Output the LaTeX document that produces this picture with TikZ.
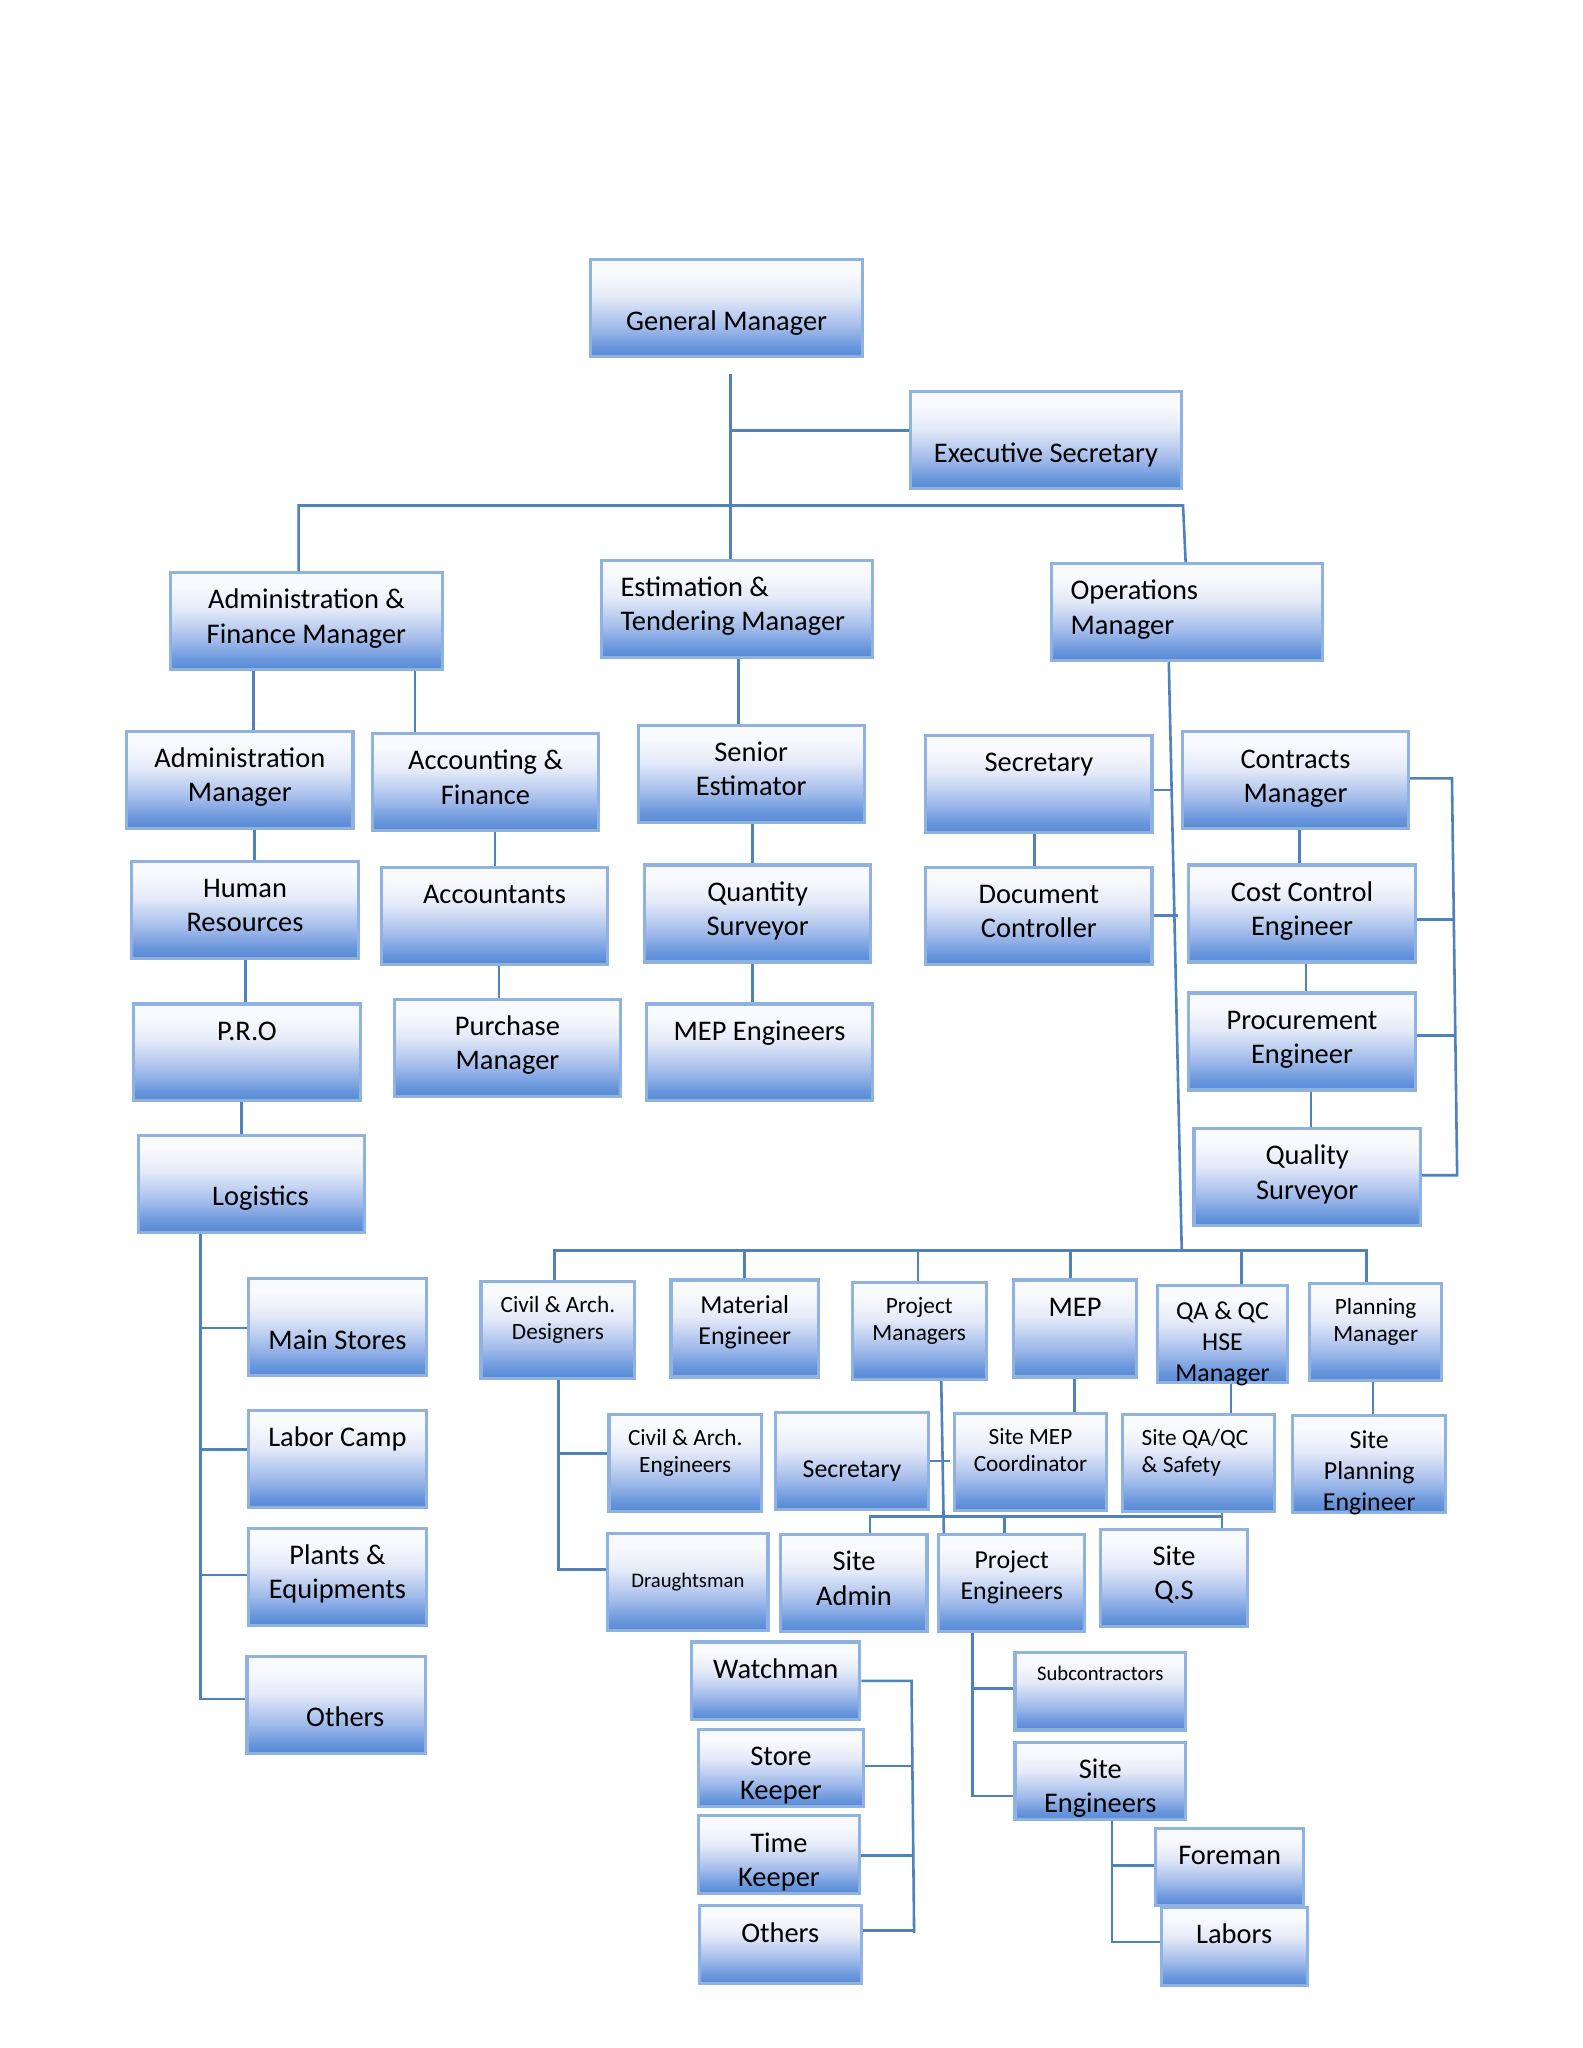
\documentclass[tikz,border=0pt]{standalone}
\usepackage{fontspec}
\setmainfont{Carlito}
\usepackage{tikz}
\usetikzlibrary{positioning}
\definecolor{linkblue}{RGB}{79,129,189}
\definecolor{edgeblue}{RGB}{143,178,224}
\definecolor{shadetop}{RGB}{249,250,254}
\definecolor{shadeup}{RGB}{228,234,248}
\definecolor{shademid}{RGB}{165,189,235}
\definecolor{shadelow}{RGB}{104,150,220}
\definecolor{shadebot}{RGB}{86,138,212}
\pgfdeclareverticalshading{jobshade}{100bp}{color(0bp)=(shadebot); color(25bp)=(shadebot); color(30bp)=(shadelow); color(41bp)=(shademid); color(56bp)=(shadeup); color(68bp)=(shadetop); color(100bp)=(shadetop)}
\newcommand{\orgrole}[2][c]{\begin{tabular}[t]{@{}#1@{}}#2\end{tabular}}
\tikzset{
jobbox/.style={draw=edgeblue, line width=1.2pt, shade, shading=jobshade, inner sep=0pt,
  minimum width=#1, text height=14pt, text depth=23.5pt, font=\fontsize{11}{13.2}\selectfont},
jobbox/.default=87.5pt,
lowbox/.style={text depth=16pt},
tenpt/.style={font=\fontsize{10}{12}\selectfont, text height=13pt, text depth=24.5pt},
ninept/.style={font=\fontsize{9}{10.4}\selectfont, text height=12pt, text depth=25.5pt},
eightpt/.style={font=\fontsize{8}{9.8}\selectfont, text height=11pt, text depth=26.5pt},
link/.style={draw=linkblue, line width=1pt}
}

\begin{document}
\begin{tikzpicture}[x=0.5pt, y=-0.5pt]
\fill[white] (0,0) rectangle (1224,1584);
\useasboundingbox (0,0) rectangle (1224,1584);

%%% Top management
\node[jobbox=105pt] (gm) at (562,238.5) {\orgrole{\\General Manager}};
\node[jobbox=105pt] (exsec) at (809,340.5) {\orgrole{\\Executive Secretary}};
\node[jobbox=105pt] (adfin) at (237,480.5) {\orgrole{Administration \&\\Finance Manager}};
\node[jobbox=105pt] (esttend) at (570,471) {\orgrole[p{90pt}]{Estimation \&\\Tendering Manager}};
\node[jobbox=105pt] (opsman) at (918,473.5) {\orgrole[p{90pt}]{Operations\\Manager}};

%%% Administration & Finance
\node[jobbox] (adminman) at (185.5,603) {\orgrole{Administration\\Manager}};
\node[jobbox] (accfin) at (375.5,605) {\orgrole{Accounting \&\\Finance}};
\node[jobbox] (hr) at (189.5,703.5) {\orgrole{Human\\Resources}};
\node[jobbox] (accts) at (382.5,708.5) {\orgrole{Accountants}};
\node[jobbox] (pro) at (191,814) {\orgrole{P.R.O}};
\node[jobbox] (purch) at (392.5,810.5) {\orgrole{Purchase\\Manager}};
\node[jobbox] (logis) at (194.5,915.5) {\orgrole{\\\hspace*{7pt}Logistics}};

%%% Estimation
\node[jobbox] (senest) at (581,598.5) {\orgrole{Senior\\Estimator}};
\node[jobbox] (quantsurv) at (586,706.5) {\orgrole{Quantity\\Surveyor}};
\node[jobbox] (mepeng) at (587.5,814) {\orgrole{MEP Engineers}};

%%% Operations
\node[jobbox] (opsec) at (803.5,606.5) {\orgrole{Secretary}};
\node[jobbox] (docctrl) at (803.5,708.5) {\orgrole{Document\\Controller}};
\node[jobbox] (contracts) at (1002,603.5) {\orgrole{Contracts\\Manager}};
\node[jobbox] (costctrl) at (1007,706.5) {\orgrole{Cost Control\\Engineer}};
\node[jobbox] (procure) at (1007,805.5) {\orgrole{Procurement\\Engineer}};
\node[jobbox] (qualsurv) at (1011,910.5) {\orgrole{Quality\\Surveyor}};

%%% Logistics
\node[jobbox=69pt] (mainst) at (261,1026.5) {\orgrole{\\Main Stores}};
\node[jobbox=69pt] (camp) at (261,1128.5) {\orgrole{Labor Camp}};
\node[jobbox=69pt] (plants) at (261,1219.5) {\orgrole{Plants \&\\Equipments}};
\node[jobbox=69pt] (otherslog) at (260,1318.5) {\orgrole{\\\hspace*{7pt}Others}};

%%% Site teams
\node[jobbox=59.5pt, ninept] (civdes) at (431.5,1028.5) {\orgrole{Civil \& Arch.\\Designers}};
\node[jobbox=57pt, tenpt] (mateng) at (576,1027.5) {\orgrole{Material\\Engineer}};
\node[jobbox=52pt, ninept] (pm) at (711,1029.5) {\orgrole{Project\\Managers}};
\node[jobbox=47.5pt] (mep) at (831.5,1027.5) {\orgrole{MEP}};
\node[jobbox=50.5pt, tenpt] (qaqc) at (945.5,1032) {\orgrole{QA \& QC\\HSE\\Manager}};
\node[jobbox=51pt, ninept] (planman) at (1064,1030.5) {\orgrole{Planning\\Manager}};

\node[jobbox=59pt, ninept] (civeng) at (530,1131.5) {\orgrole{Civil \& Arch.\\Engineers}};
\node[jobbox=59pt, tenpt] (pmsec) at (659,1130) {\orgrole{\\Secretary}};
\node[jobbox=59pt, ninept] (sitemep) at (797,1130.5) {\orgrole{Site MEP\\Coordinator}};
\node[jobbox=59pt, ninept] (siteqa) at (927,1131.5) {\orgrole[p{44pt}]{Site QA/QC\\\& Safety}};
\node[jobbox=59pt, tenpt] (siteplan) at (1059,1132) {\orgrole{Site\\Planning\\Engineer}};
\node[jobbox=62pt, eightpt] (draught) at (532,1223.5) {\orgrole{\\Draughtsman}};

\node[jobbox=56.5pt] (siteadmin) at (660.5,1224.5) {\orgrole{Site\\Admin}};
\node[jobbox=56.5pt, tenpt] (projeng) at (782.5,1224.5) {\orgrole{Project\\Engineers}};
\node[jobbox=57pt] (siteqs) at (908,1220.5) {\orgrole{Site\\Q.S}};

%%% Site staff
\node[jobbox=65pt, lowbox] (watch) at (600,1300) {\orgrole{Watchman}};
\node[jobbox=64pt, lowbox] (store) at (604,1367.5) {\orgrole{Store\\Keeper}};
\node[jobbox=62.5pt, lowbox] (timek) at (602.5,1434.5) {\orgrole{Time\\Keeper}};
\node[jobbox=62.5pt, lowbox] (othersite) at (603.5,1504) {\orgrole{Others}};
\node[jobbox=66pt, eightpt, text depth=19pt] (subcon) at (851,1308) {\orgrole{Subcontractors}};
\node[jobbox=66pt, lowbox] (siteeng) at (851,1377.5) {\orgrole{Site\\Engineers}};
\node[jobbox=57pt, lowbox] (foreman) at (951,1444) {\orgrole{Foreman}};
\node[jobbox=56.5pt, lowbox] (labors) at (954.5,1505.5) {\orgrole{Labors}};

%%% Connectors
\coordinate (gmfoot) at ([xshift=1.5pt, yshift=-6pt]gm.south);
\draw[link] (gmfoot) -- (gmfoot |- esttend.north);
\draw[link] (gmfoot |- 0,333) -- (exsec.west |- 0,333);
\draw[link] (adfin.north -| 231,0) |- (915,391) -- (opsman.north -| 917,0);

\foreach \a/\b/\x in {adfin/adminman/196, adfin/accfin/321, adminman/hr/197, hr/pro/190,
  pro/logis/187, accfin/accts/383, accts/purch/386, esttend/senest/571,
  senest/quantsurv/582, quantsurv/mepeng/582, opsec/docctrl/800,
  contracts/costctrl/1005, costctrl/procure/1010, procure/qualsurv/1014,
  mep/sitemep/831, qaqc/siteqa/952, planman/siteplan/1062, siteqa/siteqs/945}
  \draw[link] (\a.south -| \x,0) -- (\b.north -| \x,0);

%% operations spine
\draw[link] (opsman.south -| 904,0) -- (914,967);
\draw[link] (opsec.east |- 0,611) -- (907,611);
\draw[link] (docctrl.east |- 0,708) -- (911,708);
\draw[link] (contracts.east |- 0,602) -- (1123,602) -- (1127,909) -- (qualsurv.east |- 0,909);
\draw[link] (costctrl.east |- 0,711) -- (1124,711);
\draw[link] (procure.east |- 0,801) -- (1125,801);

%% site bus
\draw[link] (civdes.north -| 429,0) |- (914,967) -| (planman.north -| 1057,0);
\foreach \n/\x in {mateng/576, pm/710, mep/828, qaqc/960}
  \draw[link] (\x,967) -- (\n.north -| \x,0);

\draw[link] (civdes.south -| 432,0) |- (draught.west |- 0,1214);
\draw[link] (432,1124) -- (civeng.west |- 0,1124);
\draw[link] (pm.south -| 728,0) -- (730,1186);
\draw[link] (pmsec.east |- 0,1130) -- (735,1130);
\draw[link] (siteadmin.north -| 673,0) |- (945,1173);
\draw[link] (777,1173) -- (projeng.north -| 777,0);

\draw[link] (projeng.south -| 752,0) |- (siteeng.west |- 0,1389);
\draw[link] (752,1306) -- (subcon.west |- 0,1306);
\draw[link] (siteeng.south -| 860,0) |- (labors.west |- 0,1502);
\draw[link] (860,1443) -- (foreman.west |- 0,1443);

\draw[link] (watch.east |- 0,1300) -- (705,1300) -- (707,1495);
\draw[link] (store.east |- 0,1366) -- (706,1366);
\draw[link] (timek.east |- 0,1435) -- (706,1435);
\draw[link] (othersite.east |- 0,1493) -- (707,1493);

%% logistics
\draw[link] (logis.south -| 155,0) |- (otherslog.west |- 0,1314);
\foreach \n/\y in {mainst/1027, camp/1121, plants/1218}
  \draw[link] (155,\y) -- (\n.west |- 0,\y);

\end{tikzpicture}
\end{document}
